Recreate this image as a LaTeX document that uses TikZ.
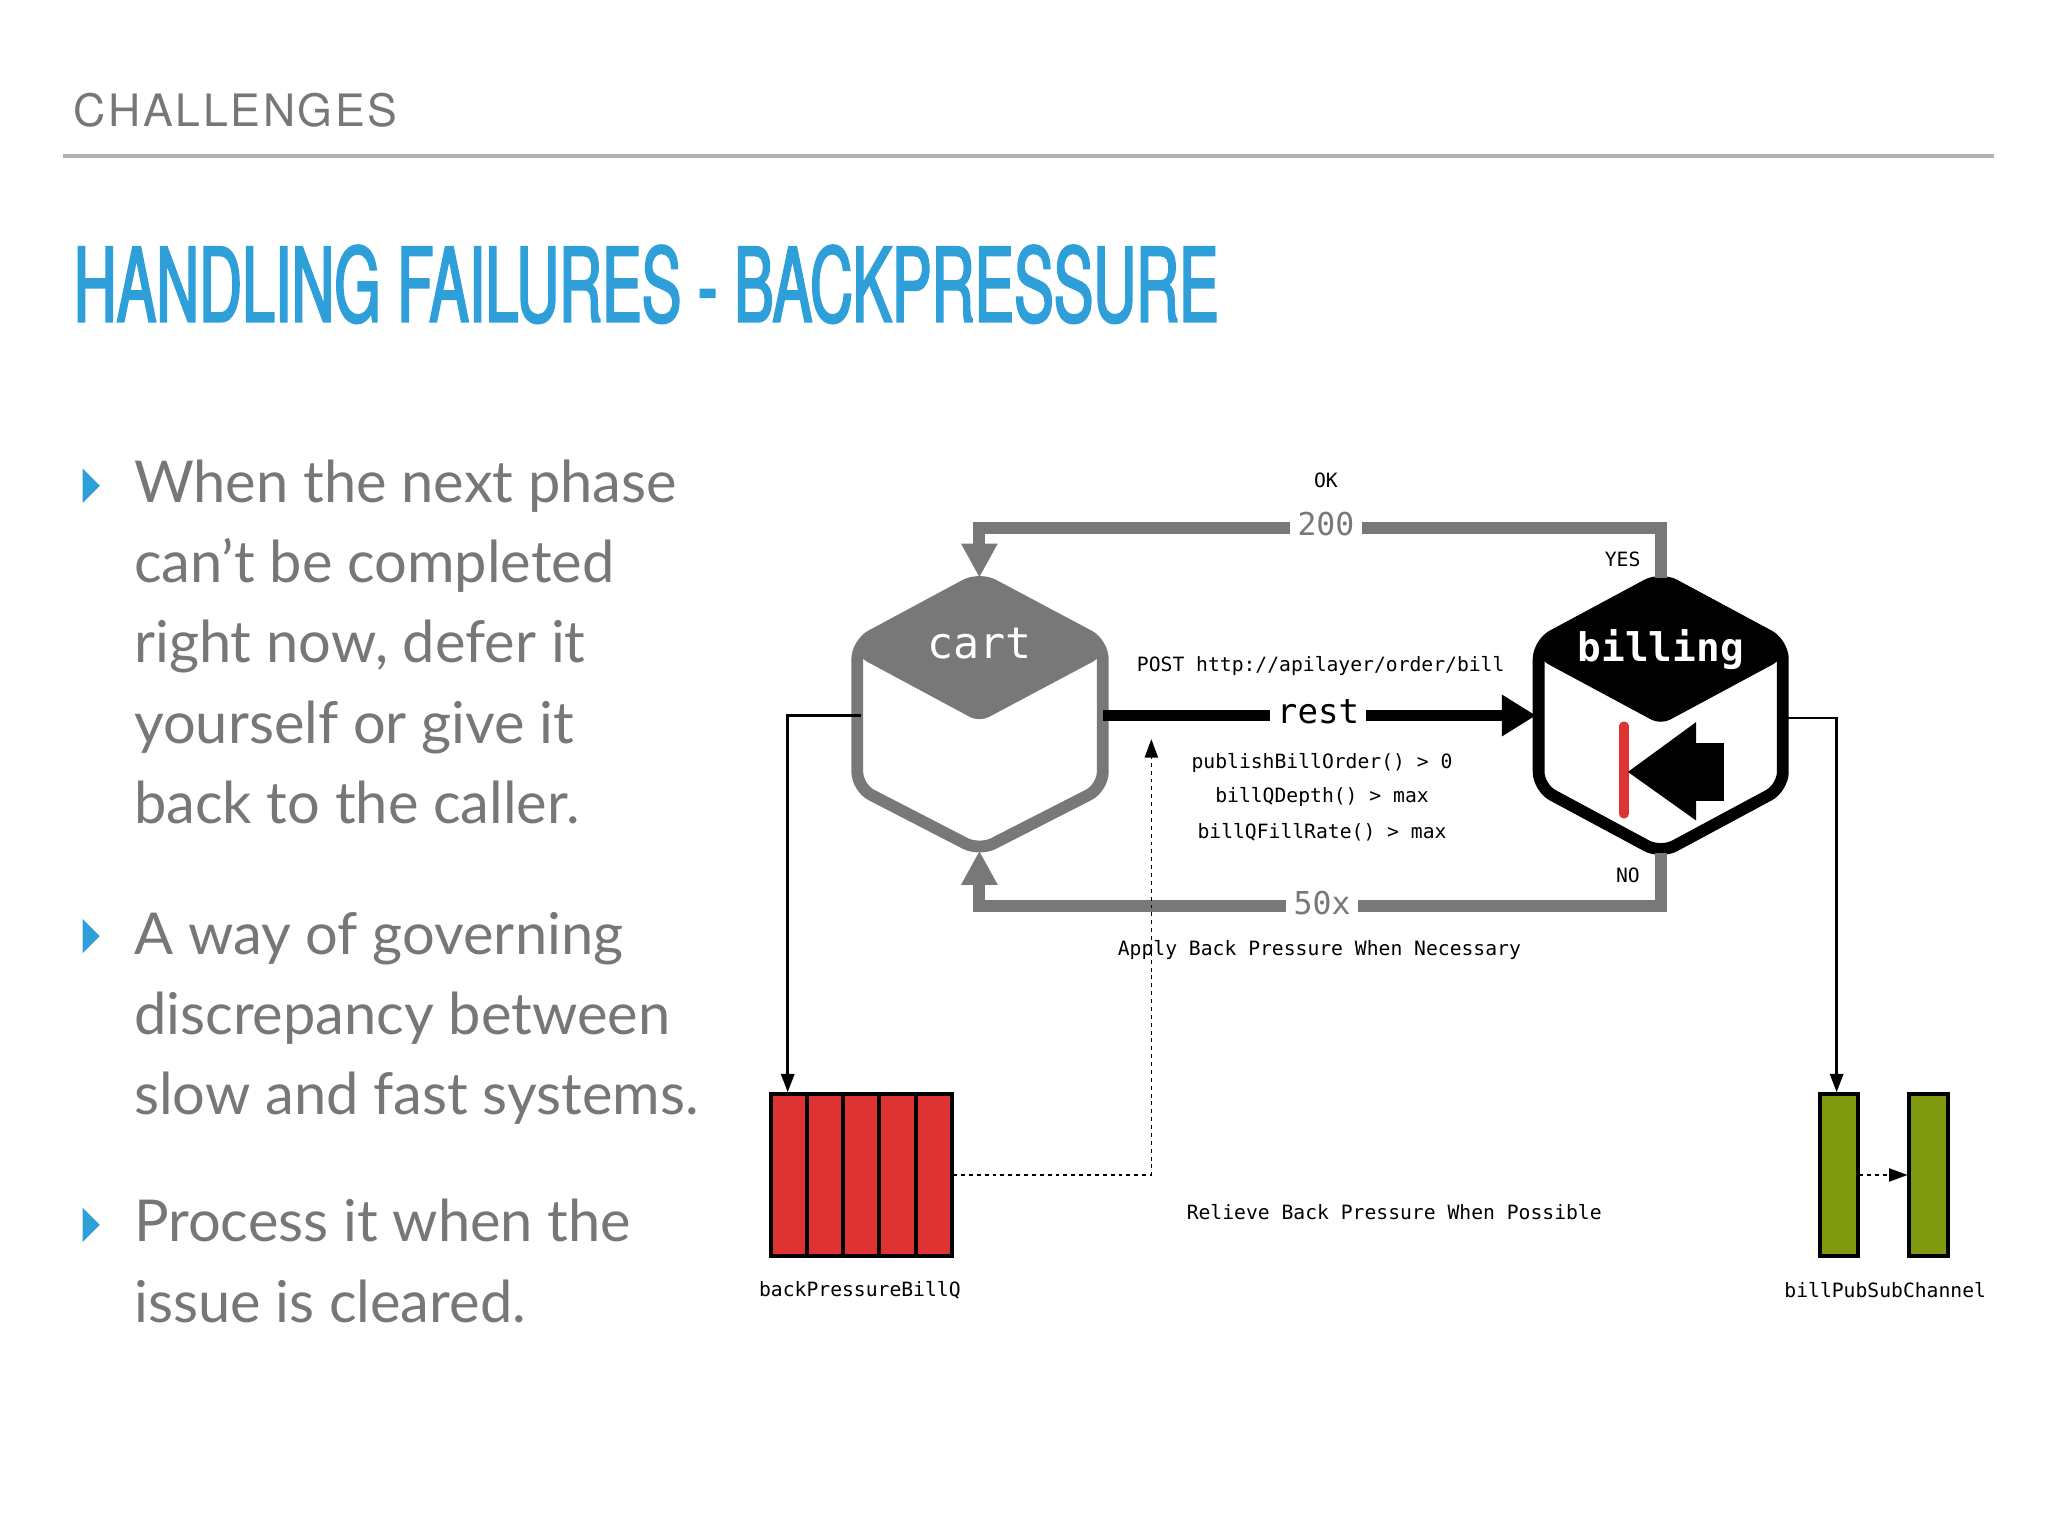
\documentclass[tikz,border=0pt]{standalone}
\usepackage{fontspec}
\setmainfont{Lato}
\setmonofont{DejaVu Sans Mono}
\newfontfamily\titlefont[FakeStretch=0.58,FakeBold=2]{TeX Gyre Heros}
\newfontfamily\headfont[LetterSpace=6]{TeX Gyre Heros}
\usetikzlibrary{arrows.meta}
\definecolor{tblue}{HTML}{2E9FD8}
\definecolor{tgrey}{HTML}{777777}
\definecolor{lgrey}{HTML}{787878}
\definecolor{qred}{HTML}{DD3333}
\definecolor{qgreen}{HTML}{7F9A0E}
\tikzset{
  bul/.style={anchor=base west,text=tgrey,font=\fontsize{44}{61}\selectfont,align=left,inner sep=0pt},
  mono/.style={font=\ttfamily\fontsize{15}{18}\selectfont,inner sep=1pt},
  loop/.style={draw=lgrey,line width=9pt},
  thin/.style={draw=black,line width=2pt,-{Triangle[length=14pt,width=10pt]}},
  qcell/.style={draw=black,line width=3pt}
}
\begin{document}
\begin{tikzpicture}[x=1pt,y=-1pt]
\useasboundingbox (0,0) rectangle (1560,1170);
\node[anchor=base west,text=tgrey,font=\headfont\fontsize{34}{34}\selectfont,inner sep=0pt] (ch) at (56,96) {CHALLENGES};
\draw[draw=gray!60,line width=3pt] (48,119) -- (1519,119);
\node[anchor=base west,text=tblue,font=\titlefont\fontsize{78}{78}\selectfont,inner sep=0pt] (title) at (56,245) {HANDLING FAILURES - BACKPRESSURE};
% bullets
\foreach \y/\n in {370/b1,713/b2,933/b3}{
  \fill[tblue] (63,\y-13) -- (76,\y) -- (63,\y+13) -- cycle;}
\node[bul] (t1) at (102,627) {When the next phase\\can’t be completed\\right now, defer it\\yourself or give it\\back to the caller.};
\node[bul] (t2) at (102,849) {A way of governing\\discrepancy between\\slow and fast systems.};
\node[bul] (t3) at (102,1007) {Process it when the\\issue is cleared.};
% cart
\coordinate (ctop) at (746,440); \coordinate (cbot) at (746,648);
\coordinate (cl) at (656,545); \coordinate (cr) at (840,545);
\fill[lgrey,rounded corners=8pt] (746,440) -- (840,490) -- (840,500) -- (746,550) -- (653,500) -- (653,490) -- cycle;
\draw[lgrey,line width=9pt,rounded corners=12pt,line join=round] (746,440) -- (840,490) -- (840,600) -- (746,648) -- (653,600) -- (653,490) -- cycle;
\node[text=white,font=\ttfamily\fontsize{33}{33}\selectfont] (cart) at (746,490) {cart};
% billing
\coordinate (btop) at (1265,440); \coordinate (bbot) at (1265,650);
\coordinate (bl) at (1170,545); \coordinate (br) at (1360,547);
\fill[black,rounded corners=8pt] (1265,440) -- (1358,490) -- (1358,502) -- (1265,552) -- (1172,502) -- (1172,490) -- cycle;
\draw[black,line width=9pt,rounded corners=12pt,line join=round] (1265,440) -- (1358,490) -- (1358,600) -- (1265,650) -- (1172,600) -- (1172,490) -- cycle;
\node[text=white,font=\ttfamily\bfseries\fontsize{30}{30}\selectfont] (billing) at (1265,495) {billing};
\draw[qred,line width=7pt,line cap=round] (1237,553) -- (1237,620);
\fill[black] (1240,588) -- (1292,550) -- (1292,566) -- (1313,566) -- (1313,610) -- (1292,610) -- (1292,625) -- cycle;
% loops
\draw[loop,-{Triangle[length=26pt,width=26pt]}] (btop) -- (1265,402) -- (746,402) -- (ctop);
\node[fill=white,text=lgrey,font=\ttfamily\fontsize{24}{24}\selectfont,inner sep=6pt] (l200) at (1010,399) {200};
\node[mono] (ok) at (1010,366) {OK};
\node[mono] (yes) at (1236,426) {YES};
\draw[loop,-{Triangle[length=26pt,width=26pt]}] (bbot) -- (1265,690) -- (746,690) -- (cbot);
\node[fill=white,text=lgrey,font=\ttfamily\fontsize{24}{24}\selectfont,inner sep=6pt] (l50) at (1007,688) {50x};
\node[mono] (no) at (1240,667) {NO};
% rest
\draw[black,line width=9pt,-{Triangle[length=26pt,width=30pt]}] (cr) -- (bl);
\node[fill=white,font=\ttfamily\fontsize{26}{26}\selectfont,inner sep=5pt] (rest) at (1004,542) {rest};
\node[mono] (post) at (1006,507) {POST http://apilayer/order/bill};
\node[mono] (c1) at (1007,581) {publishBillOrder() > 0};
\node[mono] (c2) at (1007,607) {billQDepth() > max};
\node[mono] (c3) at (1007,634) {billQFillRate() > max};
% queues
\foreach \i in {0,...,4}{\filldraw[qred,qcell] (587+\i*27.6,833) rectangle (587+\i*27.6+27.6,957);}
\coordinate (qtop) at (600,832); \coordinate (qr) at (726,895);
\filldraw[fill=qgreen,qcell] (1386,833) rectangle (1415,957);
\filldraw[fill=qgreen,qcell] (1454,833) rectangle (1484,957);
\coordinate (gtop) at (1399,832); \coordinate (g1) at (1416,895); \coordinate (g2) at (1453,895);
\draw[thin] (cl) -- (600,545) -- (qtop);
\draw[thin] (br) -- (1399,547) -- (gtop);
\coordinate (dtip) at (877,563);
\draw[thin,line width=1.2pt,dashed] (qr) -- (877,895) -- (dtip);
\draw[thin,line width=1.2pt,dashed] (g1) -- (g2);
\node[mono] (apply) at (1005,724) {Apply Back Pressure When Necessary};
\node[mono] (rel) at (1062,923) {Relieve Back Pressure When Possible};
\node[mono] (bpq) at (655,983) {backPressureBillQ};
\node[mono] (bps) at (1436,983) {billPubSubChannel};
\end{tikzpicture}
\end{document}
